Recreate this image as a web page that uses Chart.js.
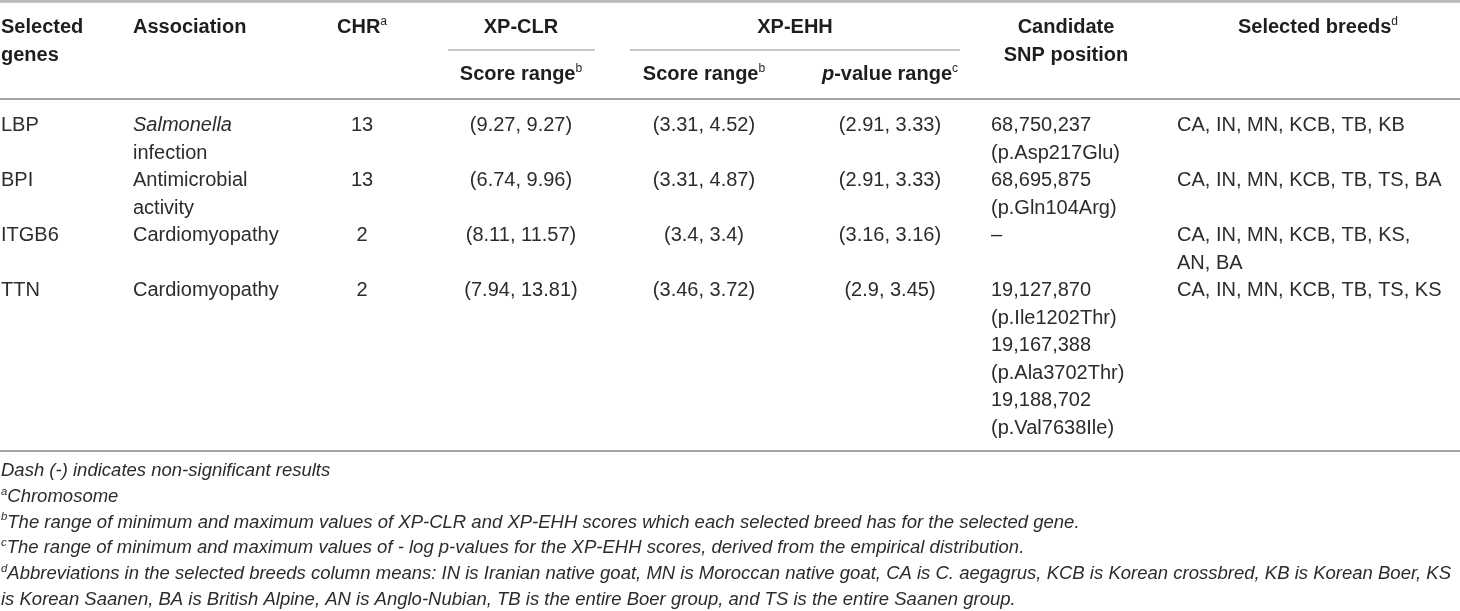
<!DOCTYPE html>
<html>
<head>
<meta charset="utf-8">
<title>Selected genes</title>
<script src="https://cdn.jsdelivr.net/npm/chart.js@4.4.1/dist/chart.umd.min.js"></script>
<style>
    html, body { margin: 0; padding: 0; background: #fff; }
    #wrap { width: 1460px; height: 611px; position: relative; }
</style>
</head>
<body>
<div id="wrap"><canvas id="table"></canvas></div>
<script>
"use strict"

// Tabellens innehåll
const genes = ['LBP', 'BPI', 'ITGB6', 'TTN'];
const associations = [['Salmonella', 'infection'], ['Antimicrobial', 'activity'], ['Cardiomyopathy'], ['Cardiomyopathy']];
const italicWords = ['Salmonella'];
const chromosomes = ['13', '13', '2', '2'];
const xpclrScores = ['(9.27, 9.27)', '(6.74, 9.96)', '(8.11, 11.57)', '(7.94, 13.81)'];
const xpehhScores = ['(3.31, 4.52)', '(3.31, 4.87)', '(3.4, 3.4)', '(3.46, 3.72)'];
const xpehhPvalues = ['(2.91, 3.33)', '(2.91, 3.33)', '(3.16, 3.16)', '(2.9, 3.45)'];
const snpPositions = [
    ['68,750,237', '(p.Asp217Glu)'],
    ['68,695,875', '(p.Gln104Arg)'],
    ['–'],
    ['19,127,870', '(p.Ile1202Thr)', '19,167,388', '(p.Ala3702Thr)', '19,188,702', '(p.Val7638Ile)']
];
const breeds = [
    ['CA, IN, MN, KCB, TB, KB'],
    ['CA, IN, MN, KCB, TB, TS, BA'],
    ['CA, IN, MN, KCB, TB, KS,', 'AN, BA'],
    ['CA, IN, MN, KCB, TB, TS, KS']
];
const rowLines = [2, 2, 2, 6];

// Fotnoter: [upphöjt tecken, text]
const footnotes = [
    ['', 'Dash (-) indicates non-significant results'],
    ['a', 'Chromosome'],
    ['b', 'The range of minimum and maximum values of XP-CLR and XP-EHH scores which each selected breed has for the selected gene.'],
    ['c', 'The range of minimum and maximum values of - log p-values for the XP-EHH scores, derived from the empirical distribution.'],
    ['d', 'Abbreviations in the selected breeds column means: IN is Iranian native goat, MN is Moroccan native goat, CA is C. aegagrus, KCB is Korean crossbred, KB is Korean Boer, KS'],
    ['', 'is Korean Saanen, BA is British Alpine, AN is Anglo-Nubian, TB is the entire Boer group, and TS is the entire Saanen group.']
];

// Placering (pixlar i sidans koordinater)
const COL = { gene: 1, assoc: 133, chr: 362, xpclr: 521, ehhHead: 795, ehhScore: 704, ehhP: 890, snp: 991, snpHead: 1066, breeds: 1177, breedsHead: 1318 };
const ROW = { head1: 33, headStep: 27.5, underline: 50, sub: 80, headRule: 99, body: 131, bodyStep: 27.5, bottomRule: 451, foot: 476, footStep: 25.8 };
const FAMILY = '"Liberation Sans", Arial, Helvetica, sans-serif';
const TEXT = '#2c2c2c';

function fontFor(style, size) {
    if (style === 'b') return 'bold ' + size + 'px ' + FAMILY;
    if (style === 'bi') return 'italic bold ' + size + 'px ' + FAMILY;
    if (style === 'i') return 'italic ' + size + 'px ' + FAMILY;
    return size + 'px ' + FAMILY;
}

// Skriv text i flera stilar, t.ex. med upphöjda tecken
function drawRich(ctx, parts, x, y, align, size, sx) {
    sx = sx || 1;
    const supSize = Math.round(size * 0.6);
    let width = 0;
    const widths = parts.map(([t, s]) => {
        const sup = s.endsWith('sup');
        ctx.font = fontFor(sup ? s.replace('sup', '') : s, sup ? supSize : size);
        const w = ctx.measureText(t).width;
        width += w;
        return w;
    });
    let cx = 0;
    if (align === 'center') cx = -width / 2;
    ctx.save();
    ctx.translate(x, y);
    ctx.scale(sx, 1);
    ctx.textAlign = 'left';
    ctx.textBaseline = 'alphabetic';
    parts.forEach(([t, s], i) => {
        const sup = s.endsWith('sup');
        ctx.font = fontFor(sup ? s.replace('sup', '') : s, sup ? supSize : size);
        ctx.fillText(t, cx, sup ? -size * 0.4 : 0);
        cx += widths[i];
    });
    ctx.restore();
    return width * sx;
}

function hLine(ctx, x1, x2, y, width, color) {
    ctx.save();
    ctx.strokeStyle = color;
    ctx.lineWidth = width;
    ctx.beginPath();
    ctx.moveTo(x1, y);
    ctx.lineTo(x2, y);
    ctx.stroke();
    ctx.restore();
}

const tablePlugin = {
    id: 'tableDraw',
    afterDraw(chart) {
        const ctx = chart.ctx;
        const px = (v) => chart.scales.x.getPixelForValue(v);
        const py = (v) => chart.scales.y.getPixelForValue(v);

        // Linjer
        hLine(ctx, px(0), px(1460), py(1.3), 2.8, '#b9b9b9');
        hLine(ctx, px(448), px(595), py(ROW.underline), 1.2, '#8f8f8f');
        hLine(ctx, px(630), px(960), py(ROW.underline), 1.2, '#8f8f8f');
        hLine(ctx, px(0), px(1460), py(ROW.headRule), 1.8, '#a3a3a3');
        hLine(ctx, px(0), px(1460), py(ROW.bottomRule), 1.8, '#a3a3a3');

        // Rubriker
        ctx.fillStyle = '#1e1e1e';
        const h1 = py(ROW.head1), h2 = py(ROW.head1 + ROW.headStep), hs = py(ROW.sub);
        drawRich(ctx, [['Selected', 'b']], px(COL.gene), h1, 'left', 20);
        drawRich(ctx, [['genes', 'b']], px(COL.gene), h2, 'left', 20);
        drawRich(ctx, [['Association', 'b']], px(COL.assoc), h1, 'left', 20);
        drawRich(ctx, [['CHR', 'b'], ['a', 'sup']], px(COL.chr), h1, 'center', 20);
        drawRich(ctx, [['XP-CLR', 'b']], px(COL.xpclr), h1, 'center', 20);
        drawRich(ctx, [['Score range', 'b'], ['b', 'sup']], px(COL.xpclr), hs, 'center', 20);
        drawRich(ctx, [['XP-EHH', 'b']], px(COL.ehhHead), h1, 'center', 20);
        drawRich(ctx, [['Score range', 'b'], ['b', 'sup']], px(COL.ehhScore), hs, 'center', 20);
        drawRich(ctx, [['p', 'bi'], ['-value range', 'b'], ['c', 'sup']], px(COL.ehhP), hs, 'center', 20);
        drawRich(ctx, [['Candidate', 'b']], px(COL.snpHead), h1, 'center', 20);
        drawRich(ctx, [['SNP position', 'b']], px(COL.snpHead), h2, 'center', 20);
        drawRich(ctx, [['Selected breeds', 'b'], ['d', 'sup']], px(COL.breedsHead), h1, 'center', 20);

        // Rader
        ctx.fillStyle = TEXT;
        let line = 0;
        genes.forEach((gene, r) => {
            const yAt = (k) => py(ROW.body + (line + k) * ROW.bodyStep);
            drawRich(ctx, [[gene, 'r']], px(COL.gene), yAt(0), 'left', 20);
            associations[r].forEach((t, k) => {
                drawRich(ctx, [[t, italicWords.includes(t) ? 'i' : 'r']], px(COL.assoc), yAt(k), 'left', 20);
            });
            drawRich(ctx, [[chromosomes[r], 'r']], px(COL.chr), yAt(0), 'center', 20);
            drawRich(ctx, [[xpclrScores[r], 'r']], px(COL.xpclr), yAt(0), 'center', 20);
            drawRich(ctx, [[xpehhScores[r], 'r']], px(COL.ehhScore), yAt(0), 'center', 20);
            drawRich(ctx, [[xpehhPvalues[r], 'r']], px(COL.ehhP), yAt(0), 'center', 20);
            snpPositions[r].forEach((t, k) => {
                drawRich(ctx, [[t, 'r']], px(COL.snp), yAt(k), 'left', 20);
            });
            breeds[r].forEach((t, k) => {
                drawRich(ctx, [[t, 'r']], px(COL.breeds), yAt(k), 'left', 20);
            });
            line += rowLines[r];
        });

        // Fotnoter, sträckta så att den längsta raden fyller bredden
        ctx.font = fontFor('i', 18);
        const longest = Math.max(...footnotes.map(([s, t]) => ctx.measureText(t).width + (s ? 8 : 0)));
        const sx = Math.min(1.06, 1452 / longest);
        footnotes.forEach(([sup, text], k) => {
            const parts = sup ? [[sup, 'isup'], [text, 'i']] : [[text, 'i']];
            drawRich(ctx, parts, px(1), py(ROW.foot + k * ROW.footStep), 'left', 18, sx);
        });
    }
};

new Chart(document.getElementById('table'), {
    type: 'scatter',
    data: { datasets: [] },
    options: {
        responsive: true,
        maintainAspectRatio: false,
        animation: false,
        layout: { padding: 0 },
        events: [],
        plugins: {
            legend: { display: false },
            tooltip: { enabled: false }
        },
        scales: {
            x: { type: 'linear', min: 0, max: 1460, display: false },
            y: { type: 'linear', min: 0, max: 611, reverse: true, display: false }
        }
    },
    plugins: [tablePlugin]
});
</script>
</body>
</html>
